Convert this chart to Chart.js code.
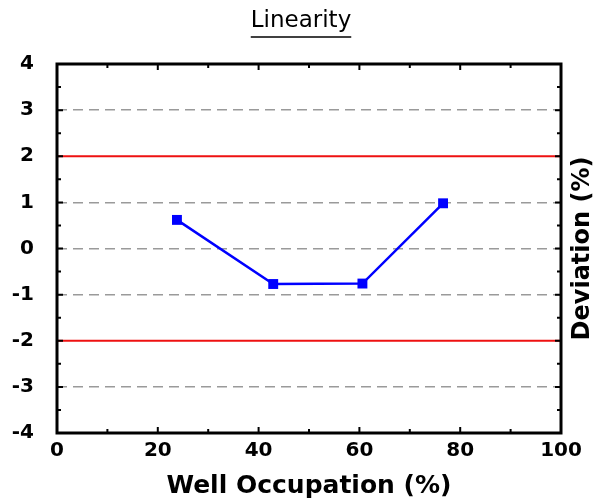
<!DOCTYPE html>
<html>
<head>
<meta charset="utf-8">
<script src="https://cdn.jsdelivr.net/npm/chart.js@4"></script>
<style>
  html, body { margin: 0; padding: 0; background: #fff; }
  #wrap { width: 602px; height: 503px; }
</style>
</head>
<body>
<div id="wrap"><canvas id="linChart" width="602" height="503"></canvas></div>
<script>
// Data
const occupation = [23.8, 42.9, 60.6, 76.6];
const deviation = [0.62, -0.77, -0.76, 0.98];
const limits = [2, -2];
const xRange = [0, 100];
const yRange = [-4, 4];
const xTickStep = 20;
const yTickStep = 1;

const boldFont = "'DejaVu Sans', sans-serif";

// limit lines go across the whole x range
const limitSets = limits.map(v => ({
    data: xRange.map(x => ({ x: x, y: v })),
    borderColor: '#ee1111',
    borderWidth: 2,
    pointRadius: 0,
    order: 2
}));

// underline the title + draw right-hand axis title + frame with inward ticks
const decor = {
    id: 'decor',
    afterDraw(chart) {
        const ctx = chart.ctx;
        const area = chart.chartArea;
        const xs = chart.scales.x;
        const ys = chart.scales.y;

        // title underline
        const t = chart.titleBlock;
        if (t) {
            ctx.save();
            ctx.font = "23px 'DejaVu Sans', sans-serif";
            const w = ctx.measureText(chart.options.plugins.title.text).width;
            const cx = (t.left + t.right) / 2;
            ctx.strokeStyle = '#000';
            ctx.lineWidth = 1.5;
            ctx.beginPath();
            ctx.moveTo(cx - w / 2, 37);
            ctx.lineTo(cx + w / 2, 37);
            ctx.stroke();
            ctx.restore();
        }

        ctx.save();
        ctx.strokeStyle = '#000';
        ctx.lineWidth = 2;
        // x ticks, majors and minors, on bottom and top
        for (let v = xRange[0]; v <= xRange[1]; v += xTickStep / 2) {
            const px = xs.getPixelForValue(v);
            const len = (v % xTickStep === 0) ? 6 : 4;
            ctx.beginPath();
            ctx.moveTo(px, area.bottom); ctx.lineTo(px, area.bottom - len);
            ctx.moveTo(px, area.top); ctx.lineTo(px, area.top + len);
            ctx.stroke();
        }
        // y ticks on left and right
        for (let v = yRange[0]; v <= yRange[1]; v += yTickStep / 2) {
            const py = ys.getPixelForValue(v);
            const len = (v % yTickStep === 0) ? 6 : 4;
            ctx.beginPath();
            ctx.moveTo(area.left, py); ctx.lineTo(area.left + len, py);
            ctx.moveTo(area.right, py); ctx.lineTo(area.right - len, py);
            ctx.stroke();
        }
        // frame
        ctx.lineWidth = 3;
        ctx.strokeRect(area.left, area.top, area.right - area.left, area.bottom - area.top);

        // right side title, reads bottom to top
        ctx.translate(583, (area.top + area.bottom) / 2);
        ctx.rotate(-Math.PI / 2);
        ctx.fillStyle = '#000';
        ctx.font = "bold 24px " + boldFont;
        ctx.textAlign = 'center';
        ctx.textBaseline = 'middle';
        ctx.fillText('Deviation (%)', 0, 0);
        ctx.restore();
    }
};

new Chart(document.getElementById('linChart'), {
    type: 'line',
    data: {
        datasets: [{
            data: occupation.map((x, i) => ({ x: x, y: deviation[i] })),
            borderColor: '#0000ff',
            backgroundColor: '#0000ff',
            borderWidth: 2.5,
            pointStyle: 'rect',
            pointRadius: 7,
            pointBorderWidth: 0,
            tension: 0,
            order: 1
        }, ...limitSets]
    },
    options: {
        responsive: false,
        animation: false,
        layout: { padding: 0 },
        plugins: {
            legend: { display: false },
            tooltip: { enabled: false },
            title: {
                display: true,
                text: 'Linearity',
                color: '#000',
                font: { family: "'DejaVu Sans', sans-serif", size: 23, weight: 'normal' },
                padding: { top: 7, bottom: 29.4 }
            }
        },
        scales: {
            x: {
                type: 'linear',
                min: xRange[0],
                max: xRange[1],
                ticks: {
                    stepSize: xTickStep,
                    color: '#000',
                    padding: 6,
                    font: { family: boldFont, size: 20, weight: 'bold' }
                },
                grid: { display: false, drawTicks: false },
                border: { display: false },
                title: {
                    display: true,
                    text: 'Well Occupation (%)',
                    color: '#000',
                    font: { family: boldFont, size: 25, weight: 'bold' },
                    padding: { top: 0, bottom: 2 }
                },
                afterFit(scale) { scale.height = 70; }
            },
            y: {
                type: 'linear',
                min: yRange[0],
                max: yRange[1],
                ticks: {
                    stepSize: yTickStep,
                    color: '#000',
                    padding: 23,
                    font: { family: boldFont, size: 20, weight: 'bold' }
                },
                grid: {
                    drawTicks: false,
                    lineWidth: 1.5,
                    color: ctx => {
                        const v = ctx.tick ? ctx.tick.value : 0;
                        return (limits.includes(v) || v === yRange[0] || v === yRange[1]) ? 'rgba(0,0,0,0)' : '#9a9a9a';
                    }
                },
                border: { display: false, dash: [10, 6] },
                afterFit(scale) { scale.width = 57; }
            },
            // spacer on the right, keeps room for the rotated title
            y2: {
                type: 'linear',
                position: 'right',
                min: yRange[0],
                max: yRange[1],
                ticks: { display: false },
                grid: { display: false, drawTicks: false },
                border: { display: false },
                afterFit(scale) { scale.width = 41; }
            }
        }
    },
    plugins: [decor]
});
</script>
</body>
</html>
